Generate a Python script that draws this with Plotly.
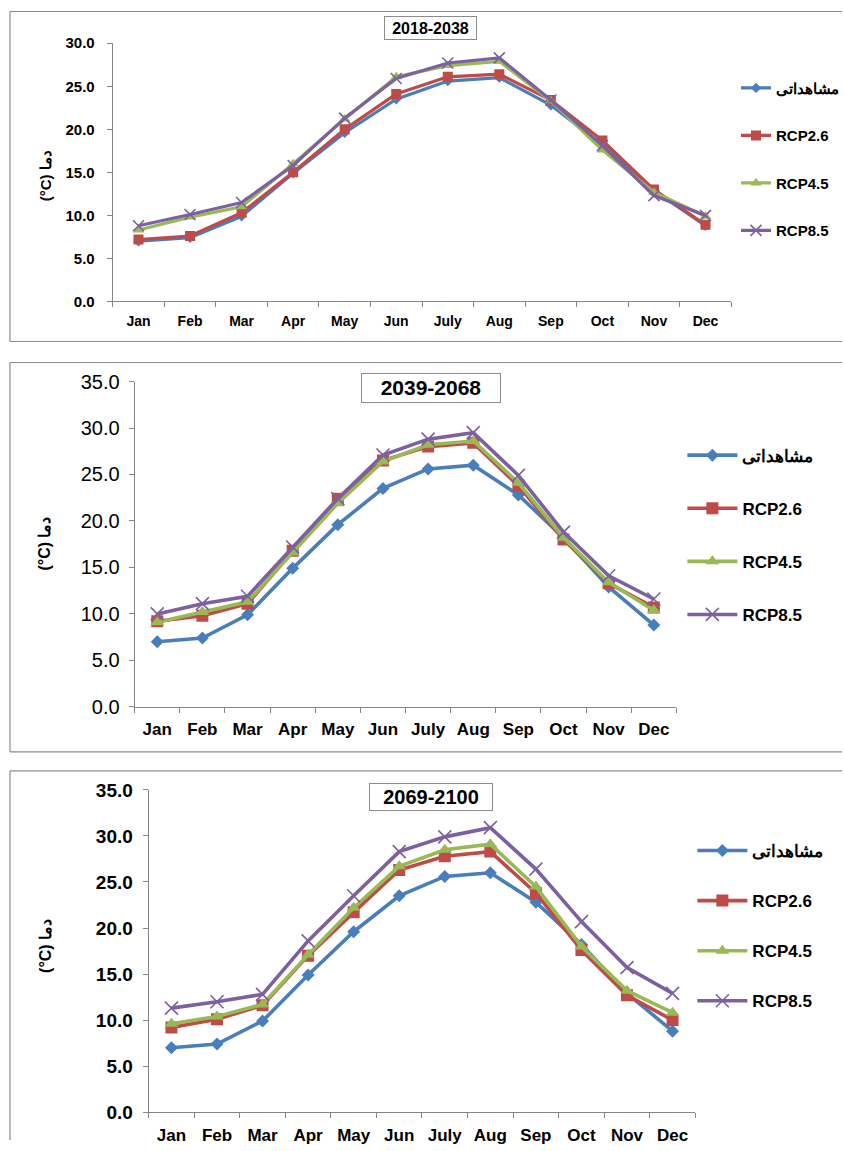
import plotly.graph_objects as go

months = ["Jan", "Feb", "Mar", "Apr", "May", "Jun", "July", "Aug", "Sep", "Oct", "Nov", "Dec"]
series_names = ["مشاهداتی", "RCP2.6", "RCP4.5", "RCP8.5"]
period_titles = ["2018-2038", "2039-2068", "2069-2100"]
y_title = "(°C) دما"

observed = [7.0, 7.4, 9.9, 14.9, 19.6, 23.5, 25.6, 26.0, 22.8, 18.2, 12.9, 8.8]

p1_rcp26 = [7.2, 7.6, 10.3, 15.0, 20.0, 24.1, 26.1, 26.4, 23.4, 18.7, 13.0, 8.9]
p1_rcp45 = [8.3, 9.8, 11.0, 16.0, 21.2, 26.1, 27.4, 27.9, 23.3, 17.6, 12.7, 9.9]
p1_rcp85 = [8.8, 10.1, 11.5, 15.8, 21.3, 25.9, 27.7, 28.3, 23.4, 18.1, 12.3, 10.0]

p2_rcp26 = [9.2, 9.8, 11.1, 16.8, 22.4, 26.5, 28.0, 28.4, 23.8, 18.0, 13.3, 10.7]
p2_rcp45 = [9.1, 10.2, 11.3, 16.6, 21.9, 26.4, 28.2, 28.6, 24.1, 18.2, 13.4, 10.4]
p2_rcp85 = [10.0, 11.1, 11.9, 17.2, 22.4, 27.1, 28.8, 29.5, 24.9, 18.8, 14.1, 11.6]

p3_rcp26 = [9.2, 10.1, 11.6, 17.0, 21.7, 26.3, 27.8, 28.3, 23.8, 17.6, 12.7, 10.0]
p3_rcp45 = [9.6, 10.4, 11.7, 17.1, 22.2, 26.7, 28.5, 29.1, 24.5, 18.0, 13.2, 10.8]
p3_rcp85 = [11.3, 12.0, 12.8, 18.6, 23.5, 28.3, 29.9, 30.9, 26.4, 20.7, 15.7, 12.9]

panels = [
    [observed, p1_rcp26, p1_rcp45, p1_rcp85],
    [observed, p2_rcp26, p2_rcp45, p2_rcp85],
    [observed, p3_rcp26, p3_rcp45, p3_rcp85],
]

W, H = 844, 1151
# the photographed page shows the figure at  y_page = 10.8 + 0.98 * y_fig
PAGE_OFF, PAGE_SCALE = 10.8, 0.98
colors = ["#4A7EBB", "#BE4B48", "#98B954", "#7D60A0"]
symbols = ["diamond", "square", "triangle-up", "x-thin"]
NARROW = "Liberation Sans Narrow, Arial Narrow, Liberation Sans, Arial, sans-serif"
ARIAL = "Liberation Sans, Arial, sans-serif"
AXIS_GRAY = "#868686"
FRAME_GRAY = "#8C8C8C"


def px(x):
    return x / W


def py(y):
    yf = max((y - PAGE_OFF) / PAGE_SCALE, 0.5)
    return 1 - yf / H


# pixel geometry of each panel (page pixels); frame = (left, top, bottom or None)
geo = [
    dict(x0=113, x1=733, y0=301, y1=43, ymax=30, lw=3.2, msz=[8, 10, 10, 11],
         tick_y=dict(family=NARROW, size=15, weight="bold"),
         tick_x=dict(family=NARROW, size=14, weight="bold"),
         ystand=9, xstand=7,
         leg=dict(x=738, y=71.4, size=15, gap=25, iw=30),
         title=dict(cx=431.5, cy=28, w=91, h=22, size=16, family=NARROW),
         ytitle=dict(x=45, y=175, size=15),
         frame=(10, 6, 341)),
    dict(x0=135, x1=678, y0=706, y1=381, ymax=35, lw=3.6, msz=[10, 12, 12, 13],
         tick_y=dict(family=ARIAL, size=20, weight="normal"),
         tick_x=dict(family=NARROW, size=17, weight="bold"),
         ystand=5, xstand=7,
         leg=dict(x=684, y=437, size=17, gap=28, iw=50),
         title=dict(cx=432, cy=387, w=138, h=27, size=21, family=ARIAL),
         ytitle=dict(x=45, y=543, size=16),
         frame=(10, 362, 751)),
    dict(x0=149, x1=697, y0=1111, y1=789, ymax=35, lw=3.6, msz=[10, 12, 12, 13],
         tick_y=dict(family=NARROW, size=19, weight="bold"),
         tick_x=dict(family=NARROW, size=17, weight="bold"),
         ystand=6, xstand=7,
         leg=dict(x=694, y=832, size=17, gap=25, iw=50),
         title=dict(cx=432, cy=796, w=122, h=25, size=20, family=NARROW),
         ytitle=dict(x=45, y=945, size=16),
         frame=(10, 770, None)),
]

fig = go.Figure()
layout = dict(
    width=W, height=H, margin=dict(l=0, r=0, t=0, b=0),
    paper_bgcolor="white", plot_bgcolor="white",
    font=dict(family=ARIAL, color="black"),
    annotations=[], shapes=[],
)


def frame_line(xa, ya, xb, yb):
    return dict(type="line", xref="paper", yref="paper",
                x0=px(xa), y0=ya, x1=px(xb), y1=yb,
                line=dict(color=FRAME_GRAY, width=1.2), layer="below")


for i, (data, g) in enumerate(zip(panels, geo)):
    n = "" if i == 0 else str(i + 1)
    xa, ya = "x" + n, "y" + n
    legname = "legend" + n
    for j, vals in enumerate(data):
        marker = dict(symbol=symbols[j], size=g["msz"][j], color=colors[j])
        if symbols[j] == "x-thin":
            marker["line"] = dict(width=1.6, color=colors[j])
        fig.add_trace(go.Scatter(
            x=months, y=vals, mode="lines+markers", name=series_names[j],
            line=dict(color=colors[j], width=g["lw"]), marker=marker,
            xaxis=xa, yaxis=ya, legend=legname, legendgroup=f"p{i}s{j}",
            showlegend=True,
        ))
    layout["xaxis" + n] = dict(
        domain=[px(g["x0"]), px(g["x1"])], anchor=ya, type="category",
        range=[-0.5, 11.5], showline=True, linecolor=AXIS_GRAY, linewidth=1,
        ticks="outside", tickson="boundaries", ticklen=5, tickcolor=AXIS_GRAY,
        showgrid=False, zeroline=False, tickfont=g["tick_x"],
        ticklabelstandoff=g["xstand"],
    )
    layout["yaxis" + n] = dict(
        domain=[py(g["y0"]), py(g["y1"])], anchor=xa, range=[0, g["ymax"]],
        dtick=5, tick0=0, tickformat=".1f", showline=True, linecolor=AXIS_GRAY,
        linewidth=1, ticks="outside", ticklen=5, tickcolor=AXIS_GRAY,
        showgrid=False, zeroline=False, tickfont=g["tick_y"],
        ticklabelstandoff=g["ystand"],
    )
    L = g["leg"]
    layout[legname] = dict(
        x=px(L["x"]), y=py(L["y"]), xanchor="left", yanchor="top",
        font=dict(family=ARIAL, size=L["size"], weight="bold"),
        tracegroupgap=L["gap"], itemwidth=L["iw"], bgcolor="rgba(0,0,0,0)",
    )
    T = g["title"]
    layout["annotations"].append(dict(
        x=px(T["cx"]), y=py(T["cy"]), xref="paper", yref="paper",
        text=period_titles[i], showarrow=False, width=T["w"],
        height=T["h"] / PAGE_SCALE,
        font=dict(family=T["family"], size=T["size"], weight="bold"),
        bordercolor=FRAME_GRAY, borderwidth=1, borderpad=0, bgcolor="white",
        xanchor="center", yanchor="middle",
    ))
    Y = g["ytitle"]
    layout["annotations"].append(dict(
        x=px(Y["x"]), y=py(Y["y"]), xref="paper", yref="paper",
        text=y_title, showarrow=False, textangle=-90,
        font=dict(family=ARIAL, size=Y["size"], weight="bold"),
        xanchor="center", yanchor="middle",
    ))
    fl, ft, fb = g["frame"]
    top = py(ft)
    bottom = py(fb) if fb is not None else 0.0
    layout["shapes"].append(frame_line(fl, top, W, top))
    layout["shapes"].append(frame_line(fl, top, fl, bottom))
    if fb is not None:
        layout["shapes"].append(frame_line(fl, bottom, W, bottom))

fig.update_layout(**layout)
fig.write_html(
    "out.html",
    config={"displayModeBar": False, "staticPlot": True},
    post_script=(
        "document.documentElement.style.margin='0';"
        "document.body.style.margin='0';document.body.style.padding='0';"
    ),
)
